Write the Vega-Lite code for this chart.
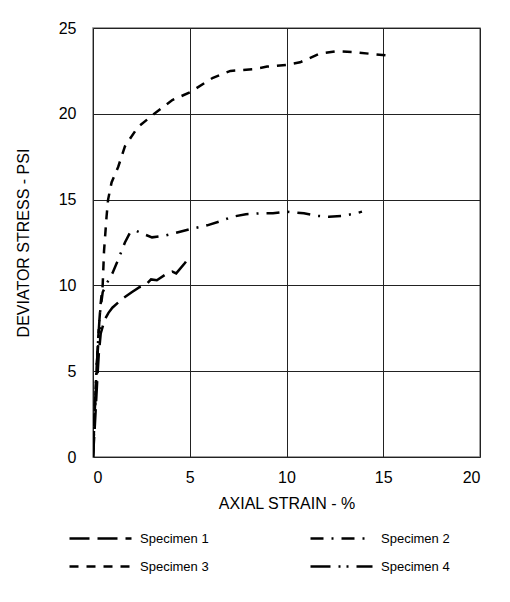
{
  "$schema": "https://vega.github.io/schema/vega-lite/v6.json",
  "width": 387,
  "height": 429,
  "autosize": {"type": "none"},
  "padding": {"left": 93, "top": 28, "right": 30, "bottom": 145},
  "background": "white",
  "config": {
    "font": "Liberation Sans",
    "view": {"stroke": "#808080", "strokeWidth": 1.5},
    "axis": {
      "grid": true,
      "gridColor": "#222222",
      "gridWidth": 1,
      "gridOpacity": 1,
      "ticks": false,
      "domain": false,
      "labelFont": "Liberation Sans",
      "labelFontSize": 16,
      "labelColor": "black",
      "titleFont": "Liberation Sans",
      "titleFontSize": 16,
      "titleFontWeight": "normal",
      "titleColor": "black"
    },
    "legend": {
      "labelFont": "Liberation Sans",
      "labelFontSize": 13,
      "labelColor": "black"
    }
  },
  "data": {
    "values": [
      {"s": "Specimen 1", "x": 0, "y": 0},
      {"s": "Specimen 1", "x": 0.08, "y": 1.5},
      {"s": "Specimen 1", "x": 0.15, "y": 3},
      {"s": "Specimen 1", "x": 0.22, "y": 4.5},
      {"s": "Specimen 1", "x": 0.3, "y": 6},
      {"s": "Specimen 1", "x": 0.4, "y": 7.2},
      {"s": "Specimen 1", "x": 0.6, "y": 8.0},
      {"s": "Specimen 1", "x": 0.8, "y": 8.4},
      {"s": "Specimen 1", "x": 1.0, "y": 8.7},
      {"s": "Specimen 1", "x": 1.5, "y": 9.2},
      {"s": "Specimen 1", "x": 2.0, "y": 9.6},
      {"s": "Specimen 1", "x": 2.4, "y": 9.9},
      {"s": "Specimen 1", "x": 2.7, "y": 10.0},
      {"s": "Specimen 1", "x": 3.0, "y": 10.35},
      {"s": "Specimen 1", "x": 3.3, "y": 10.3},
      {"s": "Specimen 1", "x": 3.7, "y": 10.6},
      {"s": "Specimen 1", "x": 4.1, "y": 10.8},
      {"s": "Specimen 1", "x": 4.3, "y": 10.7},
      {"s": "Specimen 1", "x": 4.75, "y": 11.3},
      {"s": "Specimen 1", "x": 5.0, "y": 11.7},
      {"s": "Specimen 2", "x": 0, "y": 0},
      {"s": "Specimen 2", "x": 0.07, "y": 2},
      {"s": "Specimen 2", "x": 0.15, "y": 4},
      {"s": "Specimen 2", "x": 0.25, "y": 6.5},
      {"s": "Specimen 2", "x": 0.35, "y": 8.3},
      {"s": "Specimen 2", "x": 0.5, "y": 9.6},
      {"s": "Specimen 2", "x": 0.75, "y": 10.2},
      {"s": "Specimen 2", "x": 1.0, "y": 10.7},
      {"s": "Specimen 2", "x": 1.3, "y": 11.5},
      {"s": "Specimen 2", "x": 1.65, "y": 12.5},
      {"s": "Specimen 2", "x": 1.9, "y": 13.05},
      {"s": "Specimen 2", "x": 2.2, "y": 13.2},
      {"s": "Specimen 2", "x": 2.6, "y": 13.0},
      {"s": "Specimen 2", "x": 3.05, "y": 12.8},
      {"s": "Specimen 2", "x": 3.7, "y": 12.9},
      {"s": "Specimen 2", "x": 4.4, "y": 13.1},
      {"s": "Specimen 2", "x": 5.1, "y": 13.3},
      {"s": "Specimen 2", "x": 5.9, "y": 13.5},
      {"s": "Specimen 2", "x": 6.6, "y": 13.75},
      {"s": "Specimen 2", "x": 7.2, "y": 14.0},
      {"s": "Specimen 2", "x": 7.9, "y": 14.15},
      {"s": "Specimen 2", "x": 8.6, "y": 14.2},
      {"s": "Specimen 2", "x": 9.3, "y": 14.2},
      {"s": "Specimen 2", "x": 10.0, "y": 14.3},
      {"s": "Specimen 2", "x": 10.9, "y": 14.2},
      {"s": "Specimen 2", "x": 11.6, "y": 14.05},
      {"s": "Specimen 2", "x": 12.2, "y": 14.0},
      {"s": "Specimen 2", "x": 12.9, "y": 14.05},
      {"s": "Specimen 2", "x": 13.6, "y": 14.2},
      {"s": "Specimen 2", "x": 13.9, "y": 14.3},
      {"s": "Specimen 3", "x": 0, "y": 0},
      {"s": "Specimen 3", "x": 0.1, "y": 3},
      {"s": "Specimen 3", "x": 0.2, "y": 5.5},
      {"s": "Specimen 3", "x": 0.3, "y": 7.5},
      {"s": "Specimen 3", "x": 0.4, "y": 9},
      {"s": "Specimen 3", "x": 0.5, "y": 10},
      {"s": "Specimen 3", "x": 0.57, "y": 12},
      {"s": "Specimen 3", "x": 0.7, "y": 14},
      {"s": "Specimen 3", "x": 0.78, "y": 15},
      {"s": "Specimen 3", "x": 0.96, "y": 16},
      {"s": "Specimen 3", "x": 1.3, "y": 16.9},
      {"s": "Specimen 3", "x": 1.65, "y": 18.1},
      {"s": "Specimen 3", "x": 2.3, "y": 19.2},
      {"s": "Specimen 3", "x": 3.05, "y": 19.9},
      {"s": "Specimen 3", "x": 4.1, "y": 20.8},
      {"s": "Specimen 3", "x": 5.0, "y": 21.25},
      {"s": "Specimen 3", "x": 6.2, "y": 22.1},
      {"s": "Specimen 3", "x": 7.1, "y": 22.5},
      {"s": "Specimen 3", "x": 8.3, "y": 22.6},
      {"s": "Specimen 3", "x": 9.0, "y": 22.75},
      {"s": "Specimen 3", "x": 10.0, "y": 22.85},
      {"s": "Specimen 3", "x": 10.7, "y": 23.0},
      {"s": "Specimen 3", "x": 11.7, "y": 23.5},
      {"s": "Specimen 3", "x": 12.6, "y": 23.65},
      {"s": "Specimen 3", "x": 13.4, "y": 23.6},
      {"s": "Specimen 3", "x": 14.3, "y": 23.5},
      {"s": "Specimen 3", "x": 15.2, "y": 23.4},
      {"s": "Specimen 4", "x": 0, "y": 0},
      {"s": "Specimen 4", "x": 0.05, "y": 1.5},
      {"s": "Specimen 4", "x": 0.12, "y": 3.5},
      {"s": "Specimen 4", "x": 0.2, "y": 5.5},
      {"s": "Specimen 4", "x": 0.3, "y": 7},
      {"s": "Specimen 4", "x": 0.4, "y": 8}
    ]
  },
  "mark": {"type": "line", "color": "black", "strokeWidth": 2.5, "clip": true},
  "encoding": {
    "x": {
      "field": "x",
      "type": "quantitative",
      "scale": {"domain": [0, 20], "nice": false},
      "axis": {"values": [0, 5, 10, 15, 20], "title": "AXIAL STRAIN - %", "labelPadding": 12, "titlePadding": 10}
    },
    "y": {
      "field": "y",
      "type": "quantitative",
      "scale": {"domain": [0, 25], "nice": false},
      "axis": {"values": [0, 5, 10, 15, 20, 25], "title": "DEVIATOR STRESS - PSI", "labelPadding": 17, "titlePadding": 27}
    },
    "strokeDash": {
      "field": "s",
      "type": "nominal",
      "scale": {
        "domain": ["Specimen 1", "Specimen 2", "Specimen 3", "Specimen 4"],
        "range": [[20, 8], [13, 8, 2, 8], [9, 8], [20, 8, 2, 6, 2, 8]]
      },
      "legend": {
        "title": null,
        "orient": "none",
        "legendX": -9.5,
        "legendY": 493.5,
        "columns": 2,
        "direction": "horizontal",
        "symbolType": "M-2,0H2",
        "symbolSize": 961,
        "symbolStrokeWidth": 2.5,
        "symbolStrokeColor": "black",
        "labelOffset": 22.5,
        "columnPadding": 96,
        "rowPadding": 4
      }
    }
  }
}
